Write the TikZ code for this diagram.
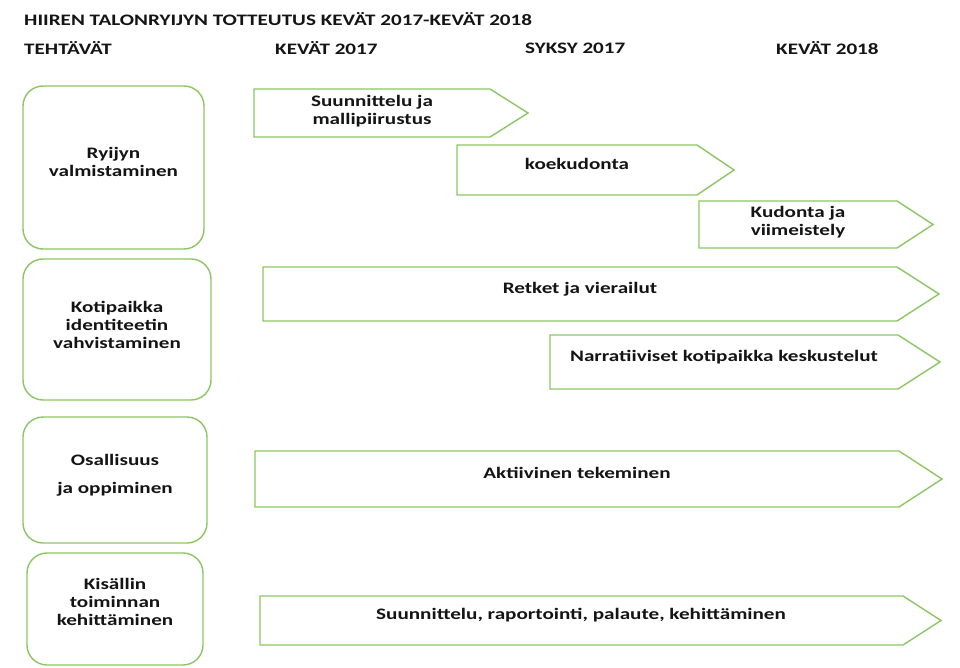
\documentclass[tikz,border=0pt]{standalone}
\usepackage{fontspec}
\setmainfont{Carlito}[FakeStretch=1.32]
\definecolor{lgreen}{RGB}{140,198,98}
\definecolor{txtcol}{RGB}{20,20,20}
\newcommand\bodyfont{\fontsize{16}{18}\selectfont\bfseries}
\begin{document}
\begin{tikzpicture}[x=1pt,y=-1pt,
  greenline/.style={draw=lgreen, line width=1.4pt},
  taskbox/.style={greenline, rounded corners=20pt},
  phasebox/.style={greenline, line join=miter},
  txt/.style={font=\bodyfont, text=txtcol, align=center, inner sep=0pt},
  head/.style={font=\bodyfont, text=txtcol, anchor=west, inner sep=0pt}]
\useasboundingbox (0,0) rectangle (960,668);

% headers
\node[head] (title) at (24,19) {HIIREN TALONRYIJYN TOTTEUTUS KEVÄT 2017-KEVÄT 2018};
\node[head] (h0) at (24,48) {TEHTÄVÄT};
\node[head] (h1) at (275,48) {KEVÄT 2017};
\node[head] (h2) at (525,48) {SYKSY 2017};
\node[head] (h3) at (776,48) {KEVÄT 2018};

% task boxes
\draw[taskbox] (23,86) rectangle (204,249);
\node[txt] (t1) at (113.5,162) {Ryijyn\\valmistaminen};
\draw[taskbox] (23,259) rectangle (211,400);
\node[txt] (t2) at (117,325) {Kotipaikka\\identiteetin\\vahvistaminen};
\draw[taskbox] (23,417) rectangle (207,543);
\node[txt] (t3) at (115,475) {Osallisuus\\[10pt]ja oppiminen};
\draw[taskbox] (27,553) rectangle (203,665);
\node[txt] (t4) at (115,602) {Kisällin\\toiminnan\\kehittäminen};

% phase arrows
\draw[phasebox] (254,89) -- (490,89) -- (528,113) -- (490,137) -- (254,137) -- cycle;
\node[txt] (p1) at (372,111) {Suunnittelu ja\\mallipiirustus};

\draw[phasebox] (457,145) -- (697,145) -- (734,170) -- (697,195) -- (457,195) -- cycle;
\node[txt] (p2) at (577,164) {koekudonta};

\draw[phasebox] (699,201) -- (897,201) -- (933,224.5) -- (897,248) -- (699,248) -- cycle;
\node[txt] (p3) at (798,222) {Kudonta ja\\viimeistely};

\draw[phasebox] (263,267) -- (897,267) -- (939,294) -- (897,321) -- (263,321) -- cycle;
\node[txt] (p4) at (580,289) {Retket ja vierailut};

\draw[phasebox] (550,335) -- (898,335) -- (940,362) -- (898,389) -- (550,389) -- cycle;
\node[txt] (p5) at (724,357) {Narratiiviset kotipaikka keskustelut};

\draw[phasebox] (255,451) -- (899,451) -- (942,479) -- (899,507) -- (255,507) -- cycle;
\node[txt] (p6) at (577,473) {Aktiivinen tekeminen};

\draw[phasebox] (260,596) -- (903,596) -- (941,620.5) -- (903,645) -- (260,645) -- cycle;
\node[txt] (p7) at (581,615) {Suunnittelu, raportointi, palaute, kehittäminen};
\end{tikzpicture}
\end{document}
